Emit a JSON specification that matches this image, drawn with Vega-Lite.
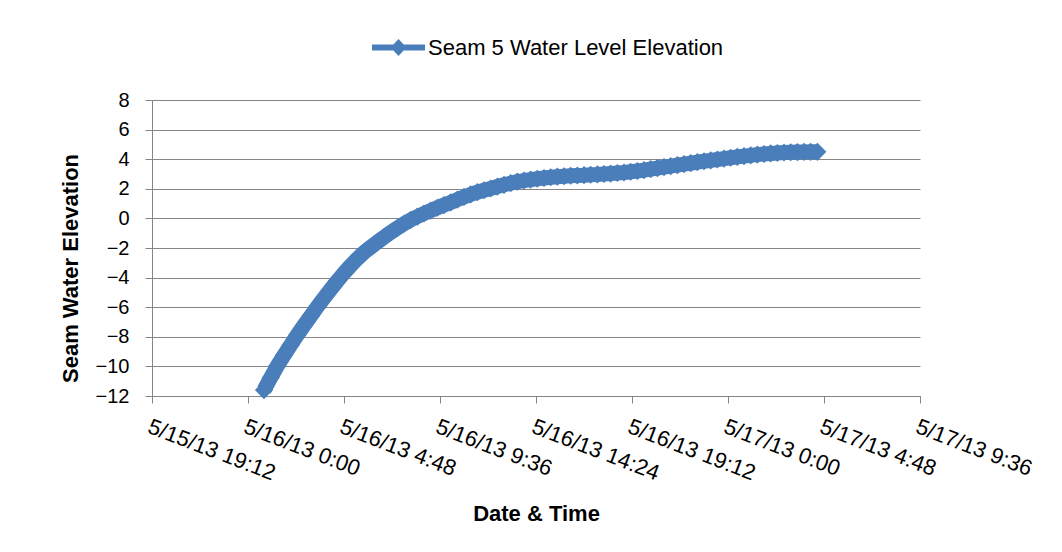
{
  "$schema": "https://vega.github.io/schema/vega-lite/v6.json",
  "width": 768,
  "height": 296,
  "autosize": {"type": "none"},
  "padding": {"left": 152, "top": 100, "right": 142, "bottom": 156},
  "background": "white",
  "config": {"view": {"stroke": null}, "font": "Liberation Sans"},
  "data": {
    "values": [
      {"t": "2013-05-16T00:48:00", "v": -11.6},
      {"t": "2013-05-16T01:08:00", "v": -10.77},
      {"t": "2013-05-16T01:28:00", "v": -9.96},
      {"t": "2013-05-16T01:48:00", "v": -9.25},
      {"t": "2013-05-16T02:08:00", "v": -8.55},
      {"t": "2013-05-16T02:28:00", "v": -7.87},
      {"t": "2013-05-16T02:48:00", "v": -7.23},
      {"t": "2013-05-16T03:08:00", "v": -6.6},
      {"t": "2013-05-16T03:28:00", "v": -5.97},
      {"t": "2013-05-16T03:48:00", "v": -5.38},
      {"t": "2013-05-16T04:08:00", "v": -4.8},
      {"t": "2013-05-16T04:28:00", "v": -4.23},
      {"t": "2013-05-16T04:48:00", "v": -3.69},
      {"t": "2013-05-16T05:08:00", "v": -3.19},
      {"t": "2013-05-16T05:28:00", "v": -2.72},
      {"t": "2013-05-16T05:48:00", "v": -2.3},
      {"t": "2013-05-16T06:08:00", "v": -1.95},
      {"t": "2013-05-16T06:28:00", "v": -1.6},
      {"t": "2013-05-16T06:48:00", "v": -1.27},
      {"t": "2013-05-16T07:08:00", "v": -0.95},
      {"t": "2013-05-16T07:28:00", "v": -0.65},
      {"t": "2013-05-16T07:48:00", "v": -0.36},
      {"t": "2013-05-16T08:08:00", "v": -0.1},
      {"t": "2013-05-16T08:28:00", "v": 0.12},
      {"t": "2013-05-16T08:48:00", "v": 0.33},
      {"t": "2013-05-16T09:08:00", "v": 0.53},
      {"t": "2013-05-16T09:28:00", "v": 0.72},
      {"t": "2013-05-16T09:48:00", "v": 0.9},
      {"t": "2013-05-16T10:08:00", "v": 1.08},
      {"t": "2013-05-16T10:28:00", "v": 1.27},
      {"t": "2013-05-16T10:48:00", "v": 1.45},
      {"t": "2013-05-16T11:08:00", "v": 1.62},
      {"t": "2013-05-16T11:28:00", "v": 1.77},
      {"t": "2013-05-16T11:48:00", "v": 1.9},
      {"t": "2013-05-16T12:08:00", "v": 2.02},
      {"t": "2013-05-16T12:28:00", "v": 2.15},
      {"t": "2013-05-16T12:48:00", "v": 2.27},
      {"t": "2013-05-16T13:08:00", "v": 2.38},
      {"t": "2013-05-16T13:28:00", "v": 2.48},
      {"t": "2013-05-16T13:48:00", "v": 2.56},
      {"t": "2013-05-16T14:08:00", "v": 2.62},
      {"t": "2013-05-16T14:28:00", "v": 2.68},
      {"t": "2013-05-16T14:48:00", "v": 2.73},
      {"t": "2013-05-16T15:08:00", "v": 2.78},
      {"t": "2013-05-16T15:28:00", "v": 2.82},
      {"t": "2013-05-16T15:48:00", "v": 2.85},
      {"t": "2013-05-16T16:08:00", "v": 2.88},
      {"t": "2013-05-16T16:28:00", "v": 2.9},
      {"t": "2013-05-16T16:48:00", "v": 2.92},
      {"t": "2013-05-16T17:08:00", "v": 2.95},
      {"t": "2013-05-16T17:28:00", "v": 2.97},
      {"t": "2013-05-16T17:48:00", "v": 3.0},
      {"t": "2013-05-16T18:08:00", "v": 3.03},
      {"t": "2013-05-16T18:28:00", "v": 3.07},
      {"t": "2013-05-16T18:48:00", "v": 3.1},
      {"t": "2013-05-16T19:08:00", "v": 3.15},
      {"t": "2013-05-16T19:28:00", "v": 3.2},
      {"t": "2013-05-16T19:48:00", "v": 3.26},
      {"t": "2013-05-16T20:08:00", "v": 3.33},
      {"t": "2013-05-16T20:28:00", "v": 3.4},
      {"t": "2013-05-16T20:48:00", "v": 3.47},
      {"t": "2013-05-16T21:08:00", "v": 3.53},
      {"t": "2013-05-16T21:28:00", "v": 3.6},
      {"t": "2013-05-16T21:48:00", "v": 3.67},
      {"t": "2013-05-16T22:08:00", "v": 3.73},
      {"t": "2013-05-16T22:28:00", "v": 3.8},
      {"t": "2013-05-16T22:48:00", "v": 3.86},
      {"t": "2013-05-16T23:08:00", "v": 3.92},
      {"t": "2013-05-16T23:28:00", "v": 3.98},
      {"t": "2013-05-16T23:48:00", "v": 4.04},
      {"t": "2013-05-17T00:08:00", "v": 4.1},
      {"t": "2013-05-17T00:28:00", "v": 4.16},
      {"t": "2013-05-17T00:48:00", "v": 4.21},
      {"t": "2013-05-17T01:08:00", "v": 4.26},
      {"t": "2013-05-17T01:28:00", "v": 4.31},
      {"t": "2013-05-17T01:48:00", "v": 4.35},
      {"t": "2013-05-17T02:08:00", "v": 4.39},
      {"t": "2013-05-17T02:28:00", "v": 4.42},
      {"t": "2013-05-17T02:48:00", "v": 4.45},
      {"t": "2013-05-17T03:08:00", "v": 4.47},
      {"t": "2013-05-17T03:28:00", "v": 4.48},
      {"t": "2013-05-17T03:48:00", "v": 4.49},
      {"t": "2013-05-17T04:08:00", "v": 4.5},
      {"t": "2013-05-17T04:28:00", "v": 4.5}
    ]
  },
  "encoding": {
    "x": {
      "field": "t",
      "type": "temporal",
      "scale": {
        "domain": [
          {"year": 2013, "month": 5, "date": 15, "hours": 19, "minutes": 12},
          {"year": 2013, "month": 5, "date": 17, "hours": 9, "minutes": 36}
        ],
        "nice": false
      },
      "axis": {
        "values": [
          {"year": 2013, "month": 5, "date": 15, "hours": 19, "minutes": 12},
          {"year": 2013, "month": 5, "date": 16, "hours": 0, "minutes": 0},
          {"year": 2013, "month": 5, "date": 16, "hours": 4, "minutes": 48},
          {"year": 2013, "month": 5, "date": 16, "hours": 9, "minutes": 36},
          {"year": 2013, "month": 5, "date": 16, "hours": 14, "minutes": 24},
          {"year": 2013, "month": 5, "date": 16, "hours": 19, "minutes": 12},
          {"year": 2013, "month": 5, "date": 17, "hours": 0, "minutes": 0},
          {"year": 2013, "month": 5, "date": 17, "hours": 4, "minutes": 48},
          {"year": 2013, "month": 5, "date": 17, "hours": 9, "minutes": 36}
        ],
        "format": "%-m/%-d/%y %-H:%M",
        "labelAngle": 21,
        "labelAlign": "left",
        "labelBaseline": "top",
        "labelPadding": 13,
        "labelFontSize": 22,
        "labelColor": "#000000",
        "labelOverlap": false,
        "labelBound": false,
        "labelFlush": false,
        "tickSize": 7,
        "tickColor": "#868686",
        "domainColor": "#868686",
        "grid": false,
        "title": "Date & Time",
        "titleFontSize": 22,
        "titleFontWeight": "bold",
        "titleColor": "#000000",
        "titleY": 124,
        "titleBaseline": "alphabetic"
      }
    },
    "y": {
      "field": "v",
      "type": "quantitative",
      "scale": {"domain": [-12, 8], "nice": false, "zero": false},
      "axis": {
        "values": [-12, -10, -8, -6, -4, -2, 0, 2, 4, 6, 8],
        "labelFontSize": 20,
        "labelColor": "#000000",
        "labelPadding": 16,
        "tickSize": 7,
        "tickColor": "#868686",
        "domainColor": "#868686",
        "grid": true,
        "gridColor": "#868686",
        "gridWidth": 1,
        "title": "Seam Water Elevation",
        "titleFontSize": 22,
        "titleFontWeight": "bold",
        "titleColor": "#000000",
        "titleAngle": -90,
        "titleX": -75,
        "titleY": 168,
        "titleAlign": "center",
        "titleBaseline": "alphabetic"
      }
    }
  },
  "layer": [
    {
      "mark": {"type": "line", "color": "#4A7EBB", "strokeWidth": 15, "strokeJoin": "round"}
    },
    {
      "mark": {"type": "point", "shape": "diamond", "filled": true, "size": 330, "opacity": 1},
      "encoding": {
        "color": {
          "datum": "Seam 5 Water Level Elevation",
          "scale": {"range": ["#4A7EBB"]},
          "legend": {
            "title": null,
            "orient": "none",
            "legendX": 220,
            "legendY": -79,
            "padding": 0,
            "symbolType": "M-1,-0.115L-0.192,-0.115L0,-0.32L0.192,-0.115L1,-0.115L1,0.115L0.192,0.115L0,0.32L-0.192,0.115L-1,0.115Z",
            "symbolSize": 2809,
            "symbolStrokeWidth": 0,
            "symbolFillColor": "#4A7EBB",
            "symbolOpacity": 1,
            "labelFontSize": 22,
            "labelColor": "#000000",
            "labelOffset": 3,
            "labelLimit": 400
          }
        }
      }
    }
  ]
}
